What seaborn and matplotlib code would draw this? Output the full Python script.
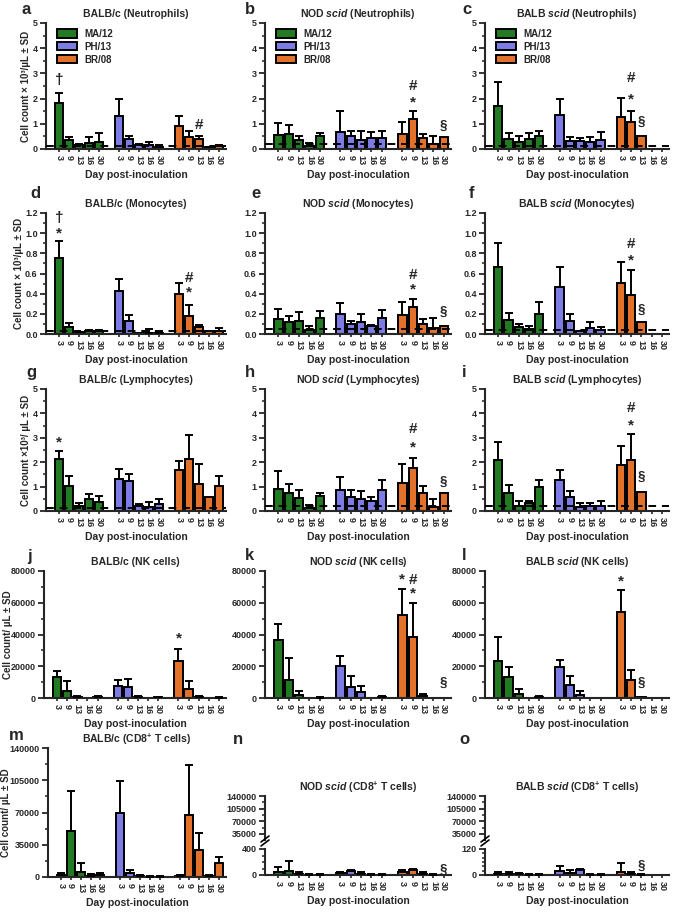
import numpy as np
import pandas as pd
import matplotlib
matplotlib.use("Agg")
import matplotlib.pyplot as plt
from matplotlib.ticker import MultipleLocator
import seaborn as sns

strains = ["MA/12", "PH/13", "BR/08"]
days = ["3", "9", "13", "16", "30"]
colors = ["#138a13", "#6b6bf5", "#ff6a0d"]

# 15 values per panel: MA/12 (days 3..30), PH/13, BR/08
a_mean = [1.82, 0.36, 0.16, 0.25, 0.29, 1.29, 0.38, 0.17, 0.15, 0.09, 0.92, 0.49, 0.40, 0.06, 0.13]
a_sd = [0.42, 0.13, 0.04, 0.24, 0.33, 0.69, 0.14, 0.03, 0.14, 0.07, 0.37, 0.23, 0.12, 0.02, 0.03]
b_mean = [0.56, 0.60, 0.36, 0.12, 0.52, 0.69, 0.52, 0.36, 0.45, 0.43, 0.60, 1.20, 0.43, 0.20, 0.47]
b_sd = [0.49, 0.36, 0.16, 0.13, 0.13, 0.83, 0.20, 0.37, 0.22, 0.30, 0.49, 0.29, 0.17, 0.33, 0]
c_mean = [1.72, 0.40, 0.27, 0.40, 0.50, 1.34, 0.33, 0.33, 0.28, 0.36, 1.27, 1.06, 0.50, 0, 0]
c_sd = [0.94, 0.23, 0.23, 0.23, 0.22, 0.65, 0.14, 0.12, 0.19, 0.30, 0.76, 0.46, 0, 0, 0]
d_mean = [0.75, 0.065, 0.016, 0.03, 0.03, 0.425, 0.13, 0.005, 0.013, 0.013, 0.40, 0.18, 0.065, 0.03, 0.03]
d_sd = [0.17, 0.045, 0, 0.01, 0.01, 0.125, 0.06, 0, 0.032, 0.013, 0.11, 0.11, 0.025, 0, 0.03]
e_mean = [0.15, 0.12, 0.13, 0.04, 0.16, 0.20, 0.10, 0.12, 0.075, 0.16, 0.19, 0.27, 0.10, 0.06, 0.08]
e_sd = [0.10, 0.06, 0.09, 0.04, 0.07, 0.11, 0.03, 0.08, 0.015, 0.08, 0.13, 0.08, 0.05, 0.10, 0]
f_mean = [0.66, 0.14, 0.066, 0.05, 0.20, 0.47, 0.13, 0.026, 0.06, 0.04, 0.51, 0.385, 0.12, 0, 0]
f_sd = [0.24, 0.07, 0.034, 0.03, 0.12, 0.19, 0.07, 0.007, 0.055, 0.03, 0.20, 0.245, 0, 0, 0]
g_mean = [2.12, 1.04, 0.20, 0.48, 0.38, 1.30, 1.23, 0.20, 0.18, 0.27, 1.67, 2.12, 1.10, 0.56, 1.04]
g_sd = [0.32, 0.41, 0.14, 0.20, 0.25, 0.43, 0.29, 0.07, 0.20, 0.22, 0.36, 1.00, 0.82, 0, 0.40]
h_mean = [0.92, 0.72, 0.55, 0.14, 0.62, 0.88, 0.58, 0.51, 0.40, 0.85, 1.15, 1.77, 0.74, 0.18, 0.72]
h_sd = [0.71, 0.40, 0.33, 0.10, 0.10, 0.51, 0.30, 0.30, 0.18, 0.43, 0.78, 0.41, 0.27, 0.31, 0]
i_mean = [2.07, 0.74, 0.20, 0.32, 0.97, 1.28, 0.56, 0.16, 0.20, 0.20, 1.88, 2.08, 0.79, 0, 0]
i_sd = [0.74, 0.32, 0.23, 0.07, 0.29, 0.40, 0.25, 0.18, 0.12, 0.19, 0.79, 1.07, 0, 0, 0]
j_mean = [13000, 4200, 600, 0, 400, 7300, 6700, 600, 0, 400, 23500, 5600, 800, 0, 300]
j_sd = [4200, 6700, 400, 0, 600, 4200, 5400, 400, 0, 300, 7300, 4900, 700, 0, 300]
k_mean = [36600, 11400, 2150, 0, 200, 20400, 6900, 3900, 0, 650, 52000, 38300, 1500, 200, 0]
k_sd = [10300, 14000, 2550, 0, 400, 6100, 7100, 3600, 0, 350, 16800, 21300, 1100, 0, 0]
l_mean = [23000, 13200, 2700, 200, 400, 19800, 8400, 1700, 0, 0, 53900, 11100, 800, 0, 0]
l_sd = [15600, 6600, 2900, 0, 1100, 4200, 5200, 2500, 0, 0, 14000, 6700, 0, 0, 0]
m_mean = [2000, 50000, 5000, 1000, 2000, 70000, 4000, 1000, 500, 500, 1000, 67000, 29000, 1000, 15000]
m_sd = [2000, 43000, 10000, 2000, 2000, 34000, 4000, 1000, 500, 500, 1000, 55000, 19000, 1000, 7000]
n_mean = [50, 60, 20, 5, 5, 30, 60, 20, 5, 5, 50, 80, 20, 5, 0]
n_sd = [70, 160, 20, 5, 5, 20, 10, 20, 5, 5, 20, 20, 20, 5, 0]
o_mean = [5, 5, 5, 2, 2, 20, 10, 25, 2, 2, 15, 5, 2, 0, 0]
o_sd = [10, 10, 5, 2, 2, 20, 15, 5, 2, 2, 40, 10, 2, 0, 0]

lods = {"a": 0.12, "b": 0.2, "c": 0.1, "d": 0.026, "e": 0.045, "f": 0.043,
        "g": 0.11, "h": 0.2, "i": 0.2}

# significance symbols: (strain index, day index, y, symbol)
marks = {
    "a": [(0, 0, 2.75, "†"), (2, 2, 0.95, "#")],
    "b": [(2, 1, 1.85, "*"), (2, 1, 2.5, "#"), (2, 4, 0.9, "§")],
    "c": [(2, 1, 1.95, "*"), (2, 1, 2.8, "#"), (2, 2, 1.08, "§")],
    "d": [(0, 0, 1.15, "†"), (0, 0, 1.0, "*"), (2, 1, 0.56, "#"), (2, 1, 0.41, "*")],
    "e": [(2, 1, 0.44, "*"), (2, 1, 0.59, "#"), (2, 4, 0.22, "§")],
    "f": [(2, 1, 0.73, "*"), (2, 1, 0.89, "#"), (2, 2, 0.24, "§")],
    "g": [(0, 0, 2.8, "*")],
    "h": [(2, 1, 2.6, "*"), (2, 1, 3.35, "#"), (2, 4, 1.19, "§")],
    "i": [(2, 1, 3.52, "*"), (2, 1, 4.23, "#"), (2, 2, 1.4, "§")],
    "j": [(2, 0, 37700, "*")],
    "k": [(2, 0, 74600, "*"), (2, 1, 74600, "#"), (2, 1, 65600, "*"), (2, 4, 9700, "§")],
    "l": [(2, 0, 73100, "*"), (2, 2, 9400, "§")],
    "m": [],
    "n": [(2, 4, 80, "§")],
    "o": [(2, 2, 40, "§")],
}

titles = {
    "a": "BALB/c (Neutrophils)", "b": "NOD $\\mathit{scid}$ (Neutrophils)",
    "c": "BALB $\\mathit{scid}$ (Neutrophils)",
    "d": "BALB/c (Monocytes)", "e": "NOD $\\mathit{scid}$ (Monocytes)",
    "f": "BALB $\\mathit{scid}$ (Monocytes)",
    "g": "BALB/c (Lymphocytes)", "h": "NOD $\\mathit{scid}$ (Lymphocytes)",
    "i": "BALB $\\mathit{scid}$ (Lymphocytes)",
    "j": "BALB/c (NK cells)", "k": "NOD $\\mathit{scid}$ (NK cells)",
    "l": "BALB $\\mathit{scid}$ (NK cells)",
    "m": "BALB/c (CD8$^{+}$ T cells)", "n": "NOD $\\mathit{scid}$ (CD8$^{+}$ T cells)",
    "o": "BALB $\\mathit{scid}$ (CD8$^{+}$ T cells)",
}

sns.set_style("ticks")
plt.rcParams["font.family"] = ["Liberation Sans", "DejaVu Sans"]
plt.rcParams["font.weight"] = "bold"
plt.rcParams["mathtext.fontset"] = "custom"
plt.rcParams["mathtext.it"] = "Liberation Sans:italic"
plt.rcParams["mathtext.rm"] = "Liberation Sans:bold"
plt.rcParams["axes.linewidth"] = 1.5

slots = [f"{s} {d}" for s in strains for d in days]
strain_col = [s for s in strains for d in days]
order = slots[0:5] + ["gap1"] + slots[5:10] + ["gap2"] + slots[10:15]
pos = [order.index(s) for s in slots]

W, H = 675, 914
fig = plt.figure(figsize=(6.75, 9.14), dpi=100)


def add_ax(l, r, t, b):
    return fig.add_axes([l / W, 1 - b / H, (r - l) / W, (b - t) / H])


def style_x(ax, show_labels=True):
    ax.set_xlim(-1.3, 16.7)
    ax.set_xticks(pos)
    if show_labels:
        ax.set_xticklabels(days * 3, rotation=270, fontsize=6.5, fontweight="bold")
        ax.set_xlabel("Day post-inoculation", fontsize=7.5, fontweight="bold", labelpad=3)
    ax.tick_params(axis="x", length=2.5, width=1.2, pad=2)
    ax.tick_params(axis="y", which="major", length=4, width=1.3, labelsize=6.5, pad=2)
    ax.tick_params(axis="y", which="minor", length=2.5, width=1.1)
    for t in ax.get_yticklabels():
        t.set_fontweight("bold")
    sns.despine(ax=ax)


def draw(ax, key, mean, sd, legend=False):
    df = pd.DataFrame({"slot": slots, "strain": strain_col, "count": mean})
    sns.barplot(data=df, x="slot", y="count", hue="strain", order=order, hue_order=strains,
                palette=colors, dodge=False, width=0.82, edgecolor="black", linewidth=1.4,
                errorbar=None, legend=legend, ax=ax, zorder=2)
    sd = np.asarray(sd, dtype=float)
    mean = np.asarray(mean, dtype=float)
    keep = sd > 0
    ax.errorbar(np.array(pos)[keep], mean[keep], yerr=[np.zeros(keep.sum()), sd[keep]],
                fmt="none", ecolor="black", elinewidth=1.4, capsize=2.6, capthick=1.4, zorder=3)
    if key in lods:
        ax.axhline(lods[key], color="black", lw=1.4, ls=(0, (4, 3)), zorder=4)
    for si, di, y, sym in marks[key]:
        size = 9.5 if sym == "§" else 11
        ax.text(pos[si * 5 + di], y, sym, ha="center", va="center", fontsize=size,
                fontweight="bold")
    ax.set_ylabel("")
    ax.set_xlabel("")
    if legend:
        handles, labels = ax.get_legend_handles_labels()
        ax.legend(handles, labels, loc="upper left", bbox_to_anchor=(0.03, 1.0), frameon=False,
                  prop={"size": 7, "weight": "bold"}, handlelength=2.0, handleheight=0.9,
                  labelspacing=0.3, borderaxespad=0.2)


rows = [(23, 149), (213, 334), (389, 511), (571, 698), (748, 877)]
cols = [(46, 226), (265, 451), (485, 669)]
letters = [["a", "b", "c"], ["d", "e", "f"], ["g", "h", "i"], ["j", "k", "l"], ["m", "n", "o"]]
letter_xy = {"a": (22, 9), "b": (245, 9), "c": (462, 9), "d": (30, 193), "e": (251, 193),
             "f": (469, 193), "g": (26, 372), "h": (245, 372), "i": (462, 372),
             "j": (27, 556), "k": (245, 556), "l": (462, 556), "m": (9, 735),
             "n": (233, 740), "o": (459, 740)}
data = {"a": (a_mean, a_sd), "b": (b_mean, b_sd), "c": (c_mean, c_sd),
        "d": (d_mean, d_sd), "e": (e_mean, e_sd), "f": (f_mean, f_sd),
        "g": (g_mean, g_sd), "h": (h_mean, h_sd), "i": (i_mean, i_sd),
        "j": (j_mean, j_sd), "k": (k_mean, k_sd), "l": (l_mean, l_sd),
        "m": (m_mean, m_sd), "n": (n_mean, n_sd), "o": (o_mean, o_sd)}
ylabels = ["Cell count × 10³/µL ± SD", "Cell count × 10³/µL ± SD", "Cell count ×10³/ µL ± SD",
           "Cell count/ µL ± SD", "Cell count/ µL ± SD"]
ylabel_x = [31, 24, 31, 13, 11]
first_left = [46, 46, 46, 44, 48]

for r, (top, bot) in enumerate(rows):
    for c, (left, right) in enumerate(cols):
        key = letters[r][c]
        mean, sd = data[key]
        if c == 0:
            left = first_left[r]
        fig.text(letter_xy[key][0] / W, 1 - letter_xy[key][1] / H, key, fontsize=12,
                 fontweight="bold", va="center", ha="left")
        if r == 4 and c > 0:
            # broken y axis
            upper = add_ax(left, right, 796, 840)
            lower = add_ax(left, right, 849, bot - 2)
            draw(lower, key, mean, sd)
            upper.set_ylim(18000, 140000)
            upper.yaxis.set_major_locator(MultipleLocator(35000))
            upper.yaxis.set_minor_locator(MultipleLocator(17500))
            upper.ticklabel_format(style="plain", axis="y", useOffset=False)
            style_x(upper, show_labels=False)
            upper.spines["bottom"].set_visible(False)
            upper.tick_params(axis="x", bottom=False, labelbottom=False)
            upper.set_title(titles[key], fontsize=7.5, fontweight="bold", pad=4)
            lim = 400 if key == "n" else 120
            lower.set_ylim(0, lim)
            style_x(lower)
            lower.set_yticks([0, lim])
            lower.yaxis.set_minor_locator(MultipleLocator(lim / 4 if key == "n" else 20))
            for yy in (0, 4):
                fig.add_artist(plt.Line2D([(left - 4) / W, (left + 4) / W],
                                          [1 - (846 - yy) / H, 1 - (840 - yy) / H],
                                          color="black", lw=1.2))
            continue
        ax = add_ax(left, right, top, bot)
        draw(ax, key, mean, sd, legend=(r == 0))
        if r in (0, 2):
            ax.set_ylim(0, 5)
            ax.yaxis.set_major_locator(MultipleLocator(1))
            ax.yaxis.set_minor_locator(MultipleLocator(0.5))
        elif r == 1:
            ax.set_ylim(0, 1.2)
            ax.yaxis.set_major_locator(MultipleLocator(0.2))
            ax.yaxis.set_minor_locator(MultipleLocator(0.1))
        elif r == 3:
            ax.set_ylim(0, 80000)
            ax.yaxis.set_major_locator(MultipleLocator(20000))
            ax.yaxis.set_minor_locator(MultipleLocator(10000))
        else:
            ax.set_ylim(0, 140000)
            ax.yaxis.set_major_locator(MultipleLocator(35000))
            ax.yaxis.set_minor_locator(MultipleLocator(17500))
        ax.ticklabel_format(style="plain", axis="y", useOffset=False)
        style_x(ax)
        ax.set_title(titles[key], fontsize=7.5, fontweight="bold", pad=4)
        if c == 0:
            ax.set_ylabel(ylabels[r], fontsize=7, fontweight="bold")
            ax.yaxis.set_label_coords((ylabel_x[r] - left) / (right - left), 0.5)

fig.savefig("out.png", dpi=100)
